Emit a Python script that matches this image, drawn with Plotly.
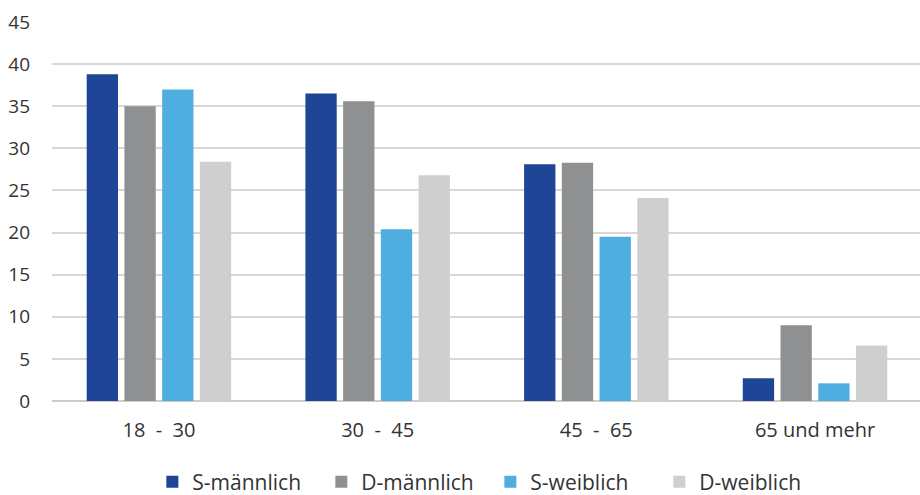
import plotly.graph_objects as go

# Age groups and shares per group (percent)
categories = ["18  -  30", "30  -  45", "45  -  65", "65 und mehr"]
series_names = ["S-männlich", "D-männlich", "S-weiblich", "D-weiblich"]
s_maennlich = [38.8, 36.5, 28.1, 2.7]
d_maennlich = [35.0, 35.6, 28.3, 9.0]
s_weiblich = [37.0, 20.4, 19.5, 2.1]
d_weiblich = [28.4, 26.8, 24.1, 6.6]
y_ticks = [0, 5, 10, 15, 20, 25, 30, 35, 40, 45]

colors = ["#1e4596", "#8f9091", "#4faee0", "#cfcfcf"]
values = [s_maennlich, d_maennlich, s_weiblich, d_weiblich]

fig = go.Figure()
for name, vals, col in zip(series_names, values, colors):
    fig.add_trace(go.Bar(x=categories, y=vals, name=name, marker_color=col,
                         marker_line_width=0))

font_family = "'Open Sans', Roboto, sans-serif"
fig.update_layout(
    width=920, height=495,
    margin=dict(l=52, r=0, t=22, b=94, autoexpand=False),
    paper_bgcolor="white", plot_bgcolor="white",
    barmode="group", bargap=0.31, bargroupgap=0.17,
    font=dict(family=font_family, color="#333333", size=20),
    showlegend=True,
    legend=dict(orientation="h", x=0.505, xanchor="center", y=-0.214,
                yanchor="middle", font=dict(size=21, color="#333333"),
                itemsizing="constant", traceorder="normal", itemwidth=30,
                entrywidth=124, entrywidthmode="pixels"),
    xaxis=dict(range=[-0.489, 3.480], showgrid=False, showline=False,
               ticks="", ticklabelstandoff=15,
               tickfont=dict(size=20, color="#333333")),
    yaxis=dict(range=[0, 45], tickvals=y_ticks, showgrid=True,
               gridcolor="#dcd7d3", gridwidth=1.5, zeroline=True,
               zerolinecolor="#d0cbc7", zerolinewidth=1.5,
               ticks="", ticklabelstandoff=21,
               tickfont=dict(size=19, color="#333333")),
)

fig.write_html("out.html")
